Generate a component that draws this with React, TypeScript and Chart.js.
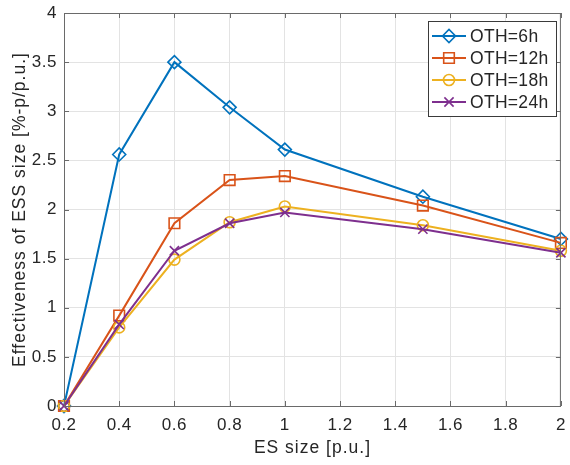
import React, { useEffect, useRef } from "react";
import { Chart, registerables } from "chart.js";
import { drawPoint } from "chart.js/helpers";

Chart.register(...registerables);

const xValues = [0.2, 0.4, 0.6, 0.8, 1, 1.5, 2];
const oth6 = [0, 2.56, 3.5, 3.04, 2.61, 2.13, 1.7];
const oth12 = [0, 0.92, 1.86, 2.3, 2.34, 2.04, 1.66];
const oth18 = [0, 0.8, 1.49, 1.87, 2.03, 1.84, 1.58];
const oth24 = [0, 0.83, 1.58, 1.86, 1.97, 1.8, 1.56];
const seriesLabels = ["OTH=6h", "OTH=12h", "OTH=18h", "OTH=24h"];
const xTicks = [0.2, 0.4, 0.6, 0.8, 1, 1.2, 1.4, 1.6, 1.8, 2];
const yTicks = [0, 0.5, 1, 1.5, 2, 2.5, 3, 3.5, 4];
const xTitle = "ES size [p.u.]";
const yTitle = "Effectiveness of ESS size [%-p/p.u.]";

const COLORS = ["#0072BD", "#D95319", "#EDB120", "#7E2F8E"];
const STYLES = ["rectRot", "rect", "circle", "crossRot"];
const RADII = [6.5, 7.5, 5.5, 6.5];
const FONT = "'Liberation Sans', Arial, Helvetica, sans-serif";
const AXIS = "#6a6a6a";
const TEXT = "#262626";

const fmt = (v: number) => String(+v.toFixed(2));

const spacingPlugin = {
  id: "spacing",
  beforeDraw(chart: any) {
    (chart.ctx as any).letterSpacing = "0.5px";
  },
};

const boxPlugin = {
  id: "matlabBox",
  afterDatasetsDraw(chart: any) {
    const { ctx, chartArea } = chart;
    const { left, right, top, bottom } = chartArea;
    const xs = chart.scales.x;
    const ys = chart.scales.y;
    ctx.save();
    ctx.strokeStyle = AXIS;
    ctx.lineWidth = 1;
    ctx.strokeRect(left + 0.5, top + 0.5, right - left - 1, bottom - top);
    const tl = 5;
    ctx.beginPath();
    for (const t of xTicks) {
      const px = Math.round(xs.getPixelForValue(t)) + 0.5;
      ctx.moveTo(px, bottom);
      ctx.lineTo(px, bottom - tl);
      ctx.moveTo(px, top);
      ctx.lineTo(px, top + tl);
    }
    for (const t of yTicks) {
      const py = Math.round(ys.getPixelForValue(t)) + 0.5;
      ctx.moveTo(left, py);
      ctx.lineTo(left + tl, py);
      ctx.moveTo(right, py);
      ctx.lineTo(right - tl, py);
    }
    ctx.stroke();

    // axis titles
    ctx.fillStyle = TEXT;
    ctx.font = `17.5px ${FONT}`;
    (ctx as any).letterSpacing = "1px";
    ctx.textAlign = "center";
    ctx.textBaseline = "alphabetic";
    ctx.fillText(xTitle, (left + right) / 2, 453);
    ctx.save();
    ctx.translate(25, (top + bottom) / 2);
    ctx.rotate(-Math.PI / 2);
    ctx.fillText(yTitle, 0, 0);
    ctx.restore();

    // legend
    (ctx as any).letterSpacing = "0.3px";
    const bx = 428, by = 21, bw = 128, bh = 95;
    ctx.fillStyle = "#ffffff";
    ctx.fillRect(bx, by, bw, bh);
    ctx.strokeStyle = "#3a3a3a";
    ctx.strokeRect(bx + 0.5, by + 0.5, bw, bh);
    const rows = [36, 58, 80, 102];
    ctx.font = `17.5px ${FONT}`;
    ctx.textBaseline = "middle";
    ctx.textAlign = "left";
    seriesLabels.forEach((lab, i) => {
      const y = rows[i];
      ctx.strokeStyle = COLORS[i];
      ctx.lineWidth = 2;
      ctx.beginPath();
      ctx.moveTo(432, y);
      ctx.lineTo(466, y);
      ctx.stroke();
      ctx.fillStyle = "rgba(255,255,255,0)";
      ctx.lineWidth = 1.6;
      drawPoint(ctx, { pointStyle: STYLES[i], radius: RADII[i], rotation: 0, borderWidth: 1.6 } as any, 449, y);
      ctx.fillStyle = TEXT;
      ctx.fillText(lab, 470, y + 1);
    });
    ctx.restore();
  },
};

export default function App() {
  const ref = useRef<HTMLCanvasElement>(null);
  useEffect(() => {
    if (!ref.current) return;
    const all = [oth6, oth12, oth18, oth24];
    const chart = new Chart(ref.current, {
      type: "line",
      data: {
        datasets: all.map((arr, i) => ({
          label: seriesLabels[i],
          data: xValues.map((x, j) => ({ x, y: arr[j] })),
          borderColor: COLORS[i],
          backgroundColor: "rgba(255,255,255,0)",
          pointBackgroundColor: "rgba(255,255,255,0)",
          pointBorderColor: COLORS[i],
          pointStyle: STYLES[i] as any,
          pointRadius: RADII[i],
          pointBorderWidth: 1.6,
          borderWidth: 2,
          tension: 0,
          clip: false as any,
          order: 4 - i,
        })),
      },
      options: {
        animation: false,
        responsive: false,
        layout: { padding: { top: 13, right: 7, left: 0, bottom: 0 } },
        plugins: { legend: { display: false }, tooltip: { enabled: false } },
        scales: {
          x: {
            type: "linear",
            min: 0.2,
            max: 2,
            afterBuildTicks: (s: any) => {
              s.ticks = xTicks.map((v) => ({ value: v }));
            },
            afterFit: (s: any) => {
              s.height = 59;
              s.paddingLeft = 0;
              s.paddingRight = 0;
            },
            ticks: {
              callback: (v: any) => fmt(Number(v)),
              color: TEXT,
              font: { family: FONT, size: 17 },
              padding: 9,
              maxRotation: 0,
              autoSkip: false,
            },
            grid: { color: "#e3e3e3", drawTicks: false, lineWidth: 1 },
            border: { display: false },
          },
          y: {
            type: "linear",
            min: 0,
            max: 4,
            afterBuildTicks: (s: any) => {
              s.ticks = yTicks.map((v) => ({ value: v }));
            },
            afterFit: (s: any) => {
              s.width = 64;
              s.paddingTop = 0;
              s.paddingBottom = 0;
            },
            ticks: {
              callback: (v: any) => fmt(Number(v)),
              color: TEXT,
              font: { family: FONT, size: 17 },
              padding: 7,
              autoSkip: false,
            },
            grid: { color: "#e3e3e3", drawTicks: false, lineWidth: 1 },
            border: { display: false },
          },
        },
      },
      plugins: [spacingPlugin, boxPlugin],
    });
    return () => chart.destroy();
  }, []);
  return (
    <div style={{ position: "fixed", left: 0, top: 0, width: 570, height: 465, background: "#fff" }}>
      <canvas ref={ref} width={570} height={465} />
    </div>
  );
}
